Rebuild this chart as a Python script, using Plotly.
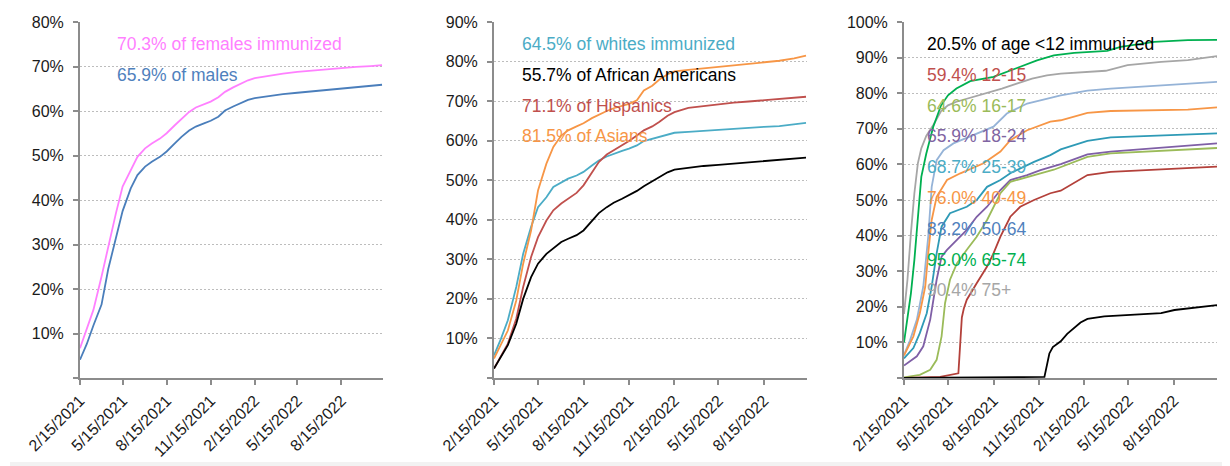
import plotly.graph_objects as go

# ---------------- Panel 1 & 2: common date grid ----------------
DATES_12 = ["2021-02-15", "2021-03-01", "2021-03-15", "2021-04-01", "2021-04-15",
            "2021-05-01", "2021-05-15", "2021-06-01", "2021-06-15", "2021-07-01",
            "2021-07-15", "2021-08-01", "2021-08-15", "2021-09-01", "2021-09-15",
            "2021-10-01", "2021-10-15", "2021-11-01", "2021-11-15", "2021-12-01",
            "2021-12-15", "2022-01-01", "2022-01-15", "2022-02-01", "2022-02-15",
            "2022-03-15", "2022-04-15", "2022-05-15", "2022-06-15", "2022-07-15",
            "2022-08-15", "2022-09-15", "2022-10-15", "2022-11-08"]

FEMALES = [6.7, 10.8, 15.3, 22.8, 29.5, 37.0, 43.0, 46.7, 49.7, 51.6,
           52.7, 53.8, 55.0, 56.8, 58.3, 59.8, 60.8, 61.6, 62.1, 63.1,
           64.3, 65.3, 66.0, 66.9, 67.4, 67.9, 68.4, 68.8, 69.1, 69.4,
           69.7, 69.9, 70.1, 70.3]
MALES = [4.1, 7.6, 11.8, 16.5, 24.5, 31.8, 37.5, 42.6, 45.6, 47.5,
         48.6, 49.7, 50.9, 52.7, 54.2, 55.6, 56.5, 57.2, 57.8, 58.7,
         60.1, 61.0, 61.7, 62.5, 62.9, 63.4, 63.8, 64.1, 64.4, 64.7,
         65.0, 65.3, 65.6, 65.9]

WHITES = [5.7, 9.9, 14.6, 23.0, 31.4, 38.2, 43.2, 45.7, 48.3, 49.5,
          50.4, 51.2, 52.1, 53.7, 55.0, 56.0, 56.7, 57.4, 58.0, 58.8,
          59.9, 60.5, 60.9, 61.6, 62.0, 62.2, 62.5, 62.8, 63.1, 63.3,
          63.5, 63.7, 64.1, 64.5]
AFRICAN_AMERICANS = [2.4, 5.3, 8.3, 13.7, 20.0, 25.5, 28.9, 31.4, 32.9, 34.4,
                     35.2, 36.1, 37.3, 39.8, 41.7, 43.2, 44.3, 45.3, 46.2, 47.3,
                     48.5, 49.8, 50.9, 52.0, 52.7, 53.2, 53.6, 53.9, 54.2, 54.5,
                     54.8, 55.1, 55.4, 55.7]
HISPANICS = [2.4, 5.7, 8.7, 15.0, 23.0, 30.6, 35.6, 39.8, 42.4, 44.1,
             45.3, 46.8, 48.7, 52.1, 54.6, 56.5, 57.5, 58.8, 59.9, 61.3,
             62.6, 63.6, 64.7, 66.3, 67.2, 68.3, 68.8, 69.2, 69.6, 69.9,
             70.2, 70.5, 70.8, 71.1]
ASIANS = [4.9, 8.3, 12.0, 19.6, 28.9, 37.3, 47.4, 54.2, 58.4, 61.3,
          62.6, 63.6, 64.4, 65.7, 66.6, 67.5, 68.2, 68.9, 69.3, 70.2,
          72.7, 73.9, 75.4, 76.8, 77.5, 77.9, 78.3, 78.7, 79.1, 79.5,
          79.9, 80.2, 80.8, 81.5]

# ---------------- Panel 3: age groups (own date lists) ----------------
AGE_U12_DATES = ["2021-02-15", "2021-05-15", "2021-11-26", "2021-12-06", "2021-12-13",
                 "2021-12-29", "2022-01-11", "2022-02-07", "2022-02-21", "2022-03-27",
                 "2022-06-02", "2022-07-20", "2022-08-16", "2022-11-10"]
AGE_U12 = [0.0, 0.1, 0.3, 6.9, 8.7, 10.3, 12.4, 15.6, 16.6, 17.3, 17.8, 18.2, 19.1, 20.5]

AGE_12_15_DATES = ["2021-02-15", "2021-04-29", "2021-06-05", "2021-06-12", "2021-06-16",
                   "2021-06-22", "2021-07-12", "2021-08-02", "2021-08-15", "2021-08-29",
                   "2021-09-18", "2021-10-08", "2021-11-05", "2021-12-08", "2021-12-29",
                   "2022-02-21", "2022-04-09", "2022-07-20", "2022-11-10"]
AGE_12_15 = [0.0, 0.3, 1.3, 17.0, 19.5, 22.0, 26.6, 31.3, 35.0, 39.7,
             45.3, 48.1, 50.0, 51.9, 52.6, 57.0, 57.9, 58.6, 59.4]

AGE_16_17_DATES = ["2021-02-15", "2021-03-19", "2021-04-09", "2021-04-22", "2021-05-02",
                   "2021-05-09", "2021-05-19", "2021-06-02", "2021-06-22", "2021-07-12",
                   "2021-08-02", "2021-08-15", "2021-08-29", "2021-09-18", "2021-10-22",
                   "2021-11-18", "2021-12-15", "2021-12-29", "2022-02-21", "2022-04-09",
                   "2022-11-10"]
AGE_16_17 = [0.2, 0.9, 2.3, 5.1, 11.7, 21.0, 27.6, 32.2, 36.0, 39.7,
             44.4, 48.1, 51.9, 55.1, 56.5, 57.5, 58.5, 59.2, 62.1, 63.1, 64.6]

AGE_18_24_DATES = ["2021-02-15", "2021-03-13", "2021-03-26", "2021-04-09", "2021-04-22",
                   "2021-05-02", "2021-05-13", "2021-06-02", "2021-06-22", "2021-07-12",
                   "2021-08-02", "2021-08-29", "2021-09-18", "2021-10-22", "2021-11-18",
                   "2021-12-29", "2022-02-21", "2022-04-09", "2022-11-10"]
AGE_18_24 = [3.5, 6.1, 8.9, 16.4, 27.6, 34.1, 36.0, 38.8, 41.6, 45.3,
             48.1, 52.8, 55.6, 57.0, 58.4, 60.1, 62.8, 63.6, 65.9]

AGE_25_39_DATES = ["2021-02-15", "2021-03-06", "2021-03-19", "2021-04-02", "2021-04-12",
                   "2021-04-22", "2021-05-02", "2021-05-19", "2021-06-22", "2021-07-12",
                   "2021-08-02", "2021-08-29", "2021-09-18", "2021-11-05", "2021-12-08",
                   "2021-12-29", "2022-02-21", "2022-04-09", "2022-11-10"]
AGE_25_39 = [5.5, 8.4, 12.6, 18.2, 25.7, 35.0, 42.5, 46.3, 48.1, 50.0,
             53.7, 55.6, 57.5, 60.7, 62.6, 64.2, 66.6, 67.6, 68.7]

AGE_40_49_DATES = ["2021-02-15", "2021-03-06", "2021-03-19", "2021-03-30", "2021-04-05",
                   "2021-04-12", "2021-04-22", "2021-05-13", "2021-06-09", "2021-07-26",
                   "2021-08-29", "2021-09-18", "2021-10-22", "2021-12-08", "2021-12-29",
                   "2022-02-21", "2022-04-09", "2022-09-12", "2022-11-10"]
AGE_40_49 = [6.3, 11.7, 18.2, 25.7, 35.0, 44.4, 50.9, 55.6, 57.5, 60.3,
             63.6, 66.8, 69.6, 72.0, 72.4, 74.5, 75.0, 75.4, 76.0]

AGE_50_64_DATES = ["2021-02-15", "2021-02-27", "2021-03-13", "2021-03-26", "2021-04-05",
                   "2021-04-12", "2021-04-22", "2021-05-06", "2021-05-26", "2021-06-29",
                   "2021-08-15", "2021-09-11", "2021-10-22", "2021-12-29", "2022-02-21",
                   "2022-04-09", "2022-11-10"]
AGE_50_64 = [6.5, 10.5, 16.4, 25.7, 39.7, 53.7, 61.2, 64.0, 65.9, 67.8,
             70.6, 74.3, 77.1, 79.4, 80.7, 81.3, 83.2]

AGE_65_74_DATES = ["2021-02-15", "2021-02-22", "2021-03-01", "2021-03-08", "2021-03-15",
                   "2021-03-22", "2021-04-01", "2021-04-15", "2021-05-01", "2021-05-15",
                   "2021-06-01", "2021-06-29", "2021-08-15", "2021-10-08", "2021-11-11",
                   "2021-12-15", "2022-01-25", "2022-04-02", "2022-04-29", "2022-07-06",
                   "2022-09-12", "2022-11-10"]
AGE_65_74 = [10.0, 16.4, 23.8, 33.2, 45.3, 56.5, 63.0, 70.5, 76.6, 79.4,
             81.3, 83.4, 84.6, 87.4, 89.2, 90.6, 91.3, 91.9, 93.0, 94.4,
             94.9, 95.0]

AGE_75P_DATES = ["2021-02-15", "2021-02-22", "2021-03-01", "2021-03-08", "2021-03-15",
                 "2021-03-22", "2021-04-01", "2021-04-15", "2021-05-01", "2021-05-15",
                 "2021-06-01", "2021-07-01", "2021-08-01", "2021-09-01", "2021-10-01",
                 "2021-11-01", "2021-12-01", "2021-12-29", "2022-03-30", "2022-05-13",
                 "2022-07-20", "2022-09-12", "2022-11-10"]
AGE_75P = [18.0, 27.6, 40.7, 51.9, 60.3, 64.5, 68.0, 71.0, 75.0, 76.6,
           77.6, 78.8, 79.9, 81.3, 82.7, 84.1, 85.0, 85.5, 86.3, 87.9,
           88.8, 89.3, 90.4]

# ---------------- Axis ticks ----------------
X_TICK_DATES = ["2021-02-15", "2021-05-15", "2021-08-15", "2021-11-15",
                "2022-02-15", "2022-05-15", "2022-08-15"]
X_TICK_LABELS = ["2/15/2021", "5/15/2021", "8/15/2021", "11/15/2021",
                 "2/15/2022", "5/15/2022", "8/15/2022"]
X_RANGE = ["2021-02-15", "2022-11-10"]
Y_MAX = [80, 90, 100]

# ---------------- Label texts ----------------
P1_LABELS = [("70.3% of females immunized", "#FF80FF"), ("65.9% of males", "#4F81BD")]
P2_LABELS = [("64.5% of whites immunized", "#4BACC6"), ("55.7% of African Americans", "#000000"),
             ("71.1% of Hispanics", "#C0504D"), ("81.5% of Asians", "#F79646")]
P3_LABELS = [("20.5% of age <12 immunized", "#000000"), ("59.4% 12-15", "#C0504D"),
             ("64.6% 16-17", "#9BBB59"), ("65.9% 18-24", "#8064A2"),
             ("68.7% 25-39", "#4BACC6"), ("76.0% 40-49", "#F79646"),
             ("83.2% 50-64", "#4F81BD"), ("95.0% 65-74", "#00B050"),
             ("90.4% 75+", "#A6A6A6")]

# ---------------- Build figure ----------------
# The page body has an 8px default margin, so the figure is drawn at (8, 8)
# inside the 1230x466 window; positions below are window pixels minus 8.
OFF = 8
W, H = 1230 - OFF, 466 - OFF
fig = go.Figure()

def add(dates, vals, color, n):
    fig.add_trace(go.Scatter(x=dates, y=vals, mode="lines",
                             line=dict(color=color, width=1.8),
                             xaxis="x" + ("" if n == 1 else str(n)),
                             yaxis="y" + ("" if n == 1 else str(n)),
                             hoverinfo="skip", showlegend=False))

add(DATES_12, FEMALES, "#FF80FF", 1)
add(DATES_12, MALES, "#4A7EBB", 1)

add(DATES_12, WHITES, "#4BACC6", 2)
add(DATES_12, HISPANICS, "#C0504D", 2)
add(DATES_12, ASIANS, "#F79646", 2)
add(DATES_12, AFRICAN_AMERICANS, "#000000", 2)

add(AGE_75P_DATES, AGE_75P, "#A6A6A6", 3)
add(AGE_50_64_DATES, AGE_50_64, "#95B3D7", 3)
add(AGE_40_49_DATES, AGE_40_49, "#F79646", 3)
add(AGE_25_39_DATES, AGE_25_39, "#2E9AB6", 3)
add(AGE_18_24_DATES, AGE_18_24, "#7F5FA6", 3)
add(AGE_16_17_DATES, AGE_16_17, "#9BBB59", 3)
add(AGE_12_15_DATES, AGE_12_15, "#B3403A", 3)
add(AGE_65_74_DATES, AGE_65_74, "#00B050", 3)
add(AGE_U12_DATES, AGE_U12, "#000000", 3)

TICKFONT = dict(family="Liberation Sans, Arial, sans-serif", size=16, color="#1a1a1a")
AXCOL = "#8C8C8C"

panels_px = [(80, 383), (494, 807), (904, 1217)]
y_top_px, y_bot_px = 22, 378

def fx(px):
    return (px - OFF) / W

def fy(py):
    return 1 - (py - OFF) / H

layout = dict(width=W, height=H, margin=dict(l=0, r=0, t=0, b=0, autoexpand=False),
              paper_bgcolor="white", plot_bgcolor="white", showlegend=False)

for i, ((x0, x1), ymax) in enumerate(zip(panels_px, Y_MAX)):
    n = "" if i == 0 else str(i + 1)
    yvals = list(range(0, ymax + 1, 10))
    layout["xaxis" + n] = dict(
        type="date", domain=[fx(x0), fx(x1)], range=X_RANGE, anchor="y" + n,
        tickvals=X_TICK_DATES, ticktext=X_TICK_LABELS, tickangle=-45,
        ticks="outside", ticklen=5, tickwidth=1.5, tickcolor=AXCOL,
        showline=True, linecolor=AXCOL, linewidth=2, showgrid=False,
        zeroline=False, tickfont=TICKFONT, automargin=False, fixedrange=True)
    layout["yaxis" + n] = dict(
        domain=[fy(y_bot_px), fy(y_top_px)], range=[0, ymax],
        anchor="x" + n, tickvals=yvals,
        ticktext=[""] + ["%d%%" % v for v in yvals[1:]],
        ticks="outside", ticklen=5, tickwidth=1.5, tickcolor=AXCOL,
        showline=True, linecolor=AXCOL, linewidth=2,
        showgrid=True, gridcolor="#BDBDBD", griddash="2px,2px", gridwidth=1,
        zeroline=False, tickfont=TICKFONT, ticklabelstandoff=6,
        automargin=False, fixedrange=True)

fig.update_layout(**layout)

ANNFONT = "Liberation Sans, Arial, sans-serif"
annotations = []
label_sets = [(P1_LABELS, 115, 44), (P2_LABELS, 520, 44), (P3_LABELS, 925, 44)]
for labels, lx, ly in label_sets:
    for k, (txt, col) in enumerate(labels):
        annotations.append(dict(
            text=txt, xref="paper", yref="paper", x=fx(lx),
            y=fy(ly + 30.8 * k), xanchor="left", yanchor="middle",
            showarrow=False, font=dict(family=ANNFONT, size=17.5, color=col)))
fig.update_layout(annotations=annotations)

fig.update_layout(shapes=[
    dict(type="rect", xref="paper", yref="paper", x0=fx(10), x1=1, y0=0, y1=fy(462),
         fillcolor="#F2F2F2", line=dict(width=0), layer="below"),
])

fig.write_html("out.html")
